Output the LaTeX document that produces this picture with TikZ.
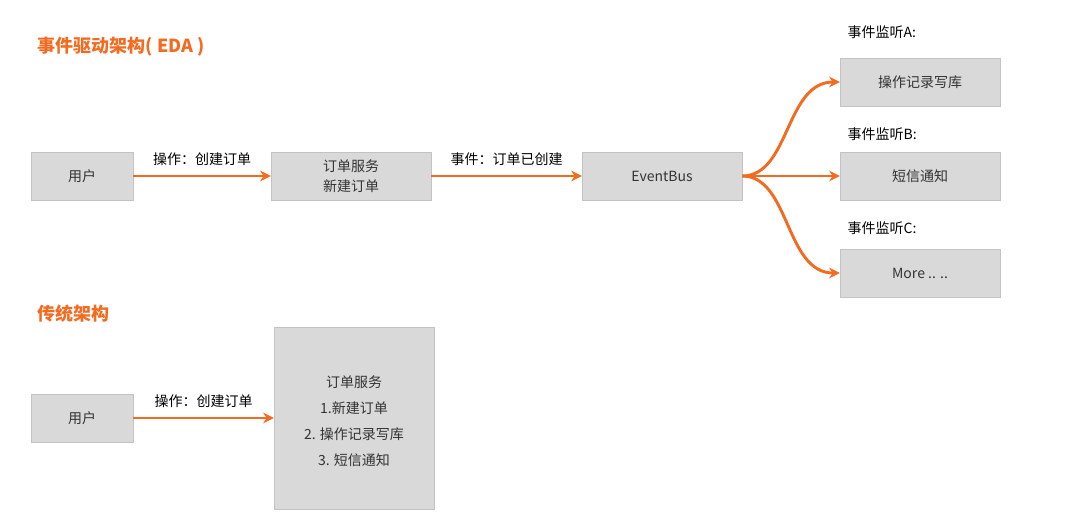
\documentclass[tikz,border=0pt]{standalone}
\usepackage{fontspec}
\setmainfont{Noto Sans CJK SC}
\usetikzlibrary{arrows.meta}
\definecolor{org}{HTML}{F26B21}
\definecolor{bx}{HTML}{D9D9D9}
\begin{document}
\begin{tikzpicture}[x=0.75pt,y=-0.75pt,
  box/.style={fill=bx,draw=bx!90!black,line width=0.3pt,inner sep=0,align=center,font=\fontsize{10.5}{15}\selectfont,text=black!80},
  arr/.style={draw=org,line width=2.2pt,-{Stealth[length=8pt,width=8pt]}},
  lbl/.style={font=\fontsize{10.5}{13}\selectfont,text=black},
  head/.style={font=\bfseries\fontsize{13.5}{16}\selectfont,text=org,anchor=west}]
\useasboundingbox (0,0) rectangle (1080,519);
\node[head] (h1) at (33,47) {事件驱动架构( EDA )};
\node[head] (h2) at (33,314) {传统架构};
\node[box,minimum width=76.5pt,minimum height=36pt] (u1) at (82,176) {用户};
\node[box,minimum width=120pt,minimum height=36pt] (os) at (351,176) {订单服务\\新建订单};
\node[box,minimum width=120pt,minimum height=36pt] (eb) at (662,176) {EventBus};
\node[box,minimum width=120pt,minimum height=36pt] (la) at (920,82) {操作记录写库};
\node[box,minimum width=120pt,minimum height=36pt] (lb) at (920,176) {短信通知};
\node[box,minimum width=120pt,minimum height=36pt] (lc) at (920,273) {More .. ..};
\node[lbl,anchor=west] (ta) at (843,32) {事件监听A:};
\node[lbl,anchor=west] (tb) at (843,134) {事件监听B:};
\node[lbl,anchor=west] (tc) at (843,228) {事件监听C:};
\draw[arr] (u1) -- node[lbl,above=3pt] {操作：创建订单} (os);
\draw[arr] (os) -- node[lbl,above=3pt] {事件：订单已创建} (eb);
\draw[arr] (eb.east) .. controls (790,176) and (785,82) .. (la.west);
\draw[arr] (eb.east) -- (lb.west);
\draw[arr] (eb.east) .. controls (790,176) and (785,273) .. (lc.west);
\node[box,minimum width=76.5pt,minimum height=36pt] (u2) at (82,418) {用户};
\node[box,minimum width=120pt,minimum height=136.5pt] (big) at (354,418) {};
\node[lbl,text=black!80] (b1) at (354,382) {订单服务};
\node[lbl,text=black!80] (b2) at (354,408) {1.新建订单};
\node[lbl,text=black!80] (b3) at (354,434) {2. 操作记录写库};
\node[lbl,text=black!80] (b4) at (354,460) {3. 短信通知};
\draw[arr] (u2) -- node[lbl,above=3pt] {操作：创建订单} (big.west |- u2);
\end{tikzpicture}
\end{document}
